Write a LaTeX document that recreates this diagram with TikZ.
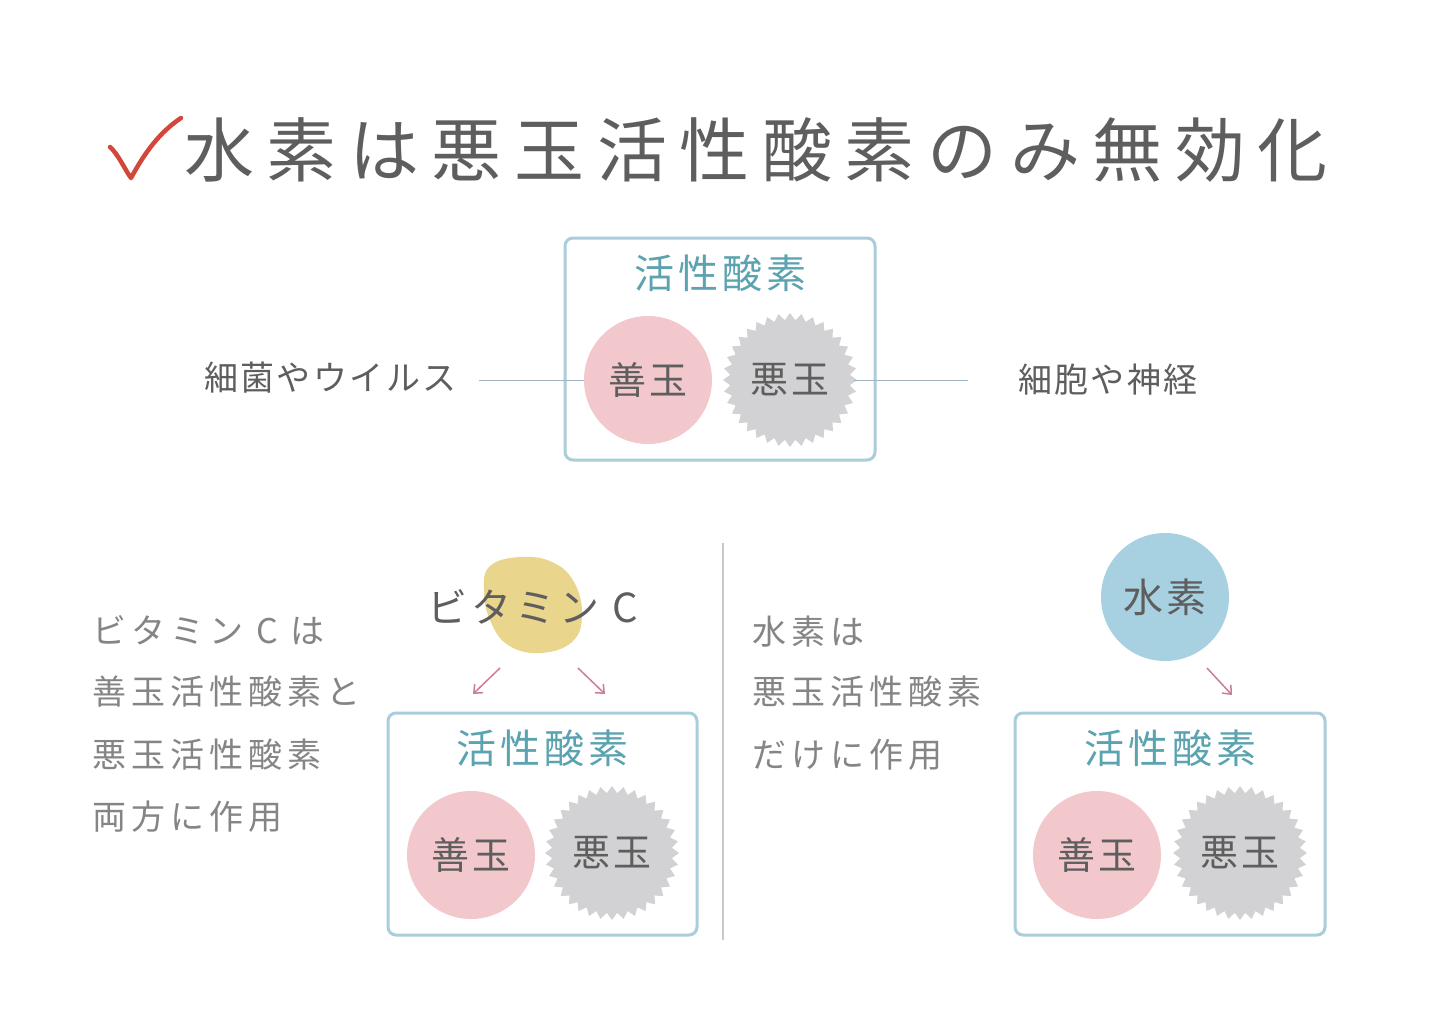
\documentclass[tikz,border=0pt]{standalone}
\usepackage{fontspec}
\setmainfont{Noto Sans CJK JP}
\usetikzlibrary{arrows.meta}
\definecolor{boxline}{HTML}{A9CDDA}
\definecolor{tealtxt}{HTML}{5BA3B0}
\definecolor{pinkc}{HTML}{F3C8CC}
\definecolor{grayc}{HTML}{D2D2D4}
\definecolor{darktxt}{HTML}{5E5E5E}
\definecolor{lighttxt}{HTML}{858585}
\definecolor{lemonc}{HTML}{E9D58C}
\definecolor{bluec}{HTML}{A7D0E1}
\definecolor{arrowc}{HTML}{C97C9C}
\definecolor{checkred}{HTML}{D2473A}
\definecolor{linec}{HTML}{9FB3C2}
\definecolor{sepc}{HTML}{C8C8C8}
\tikzset{
  oxbox/.style={draw=boxline, line width=3pt, rounded corners=8pt, fill=white},
  boxtitle/.style={text=tealtxt, font=\fontsize{40}{40}\selectfont\addfontfeatures{LetterSpace=10}},
  goodball/.style={circle, fill=pinkc, minimum size=128pt, inner sep=0pt, text=darktxt, font=\fontsize{38}{38}\selectfont\addfontfeatures{LetterSpace=8}},
  badball/.style={circle, minimum size=128pt, inner sep=0pt, text=darktxt, font=\fontsize{38}{38}\selectfont\addfontfeatures{LetterSpace=8}},
  sidelabel/.style={text=darktxt, font=\fontsize{34}{34}\selectfont\addfontfeatures{LetterSpace=7}, anchor=west, inner sep=0pt},
  bodytxt/.style={text=lighttxt, font=\fontsize{34}{34}\selectfont\addfontfeatures{LetterSpace=15}, anchor=west, inner sep=0pt},
  pinkarrow/.style={draw=arrowc, line width=1.5pt, -{Straight Barb[length=7pt,width=12pt]}},
  pics/burst/.style={code={
    \fill[grayc] (0:67) \foreach \i [evaluate=\i as \r using {mod(\i,2)==0?67:60}] in {1,...,71}{ -- ({\i*5}:\r) } -- cycle;
  }}
}
\begin{document}
\begin{tikzpicture}[x=1pt,y=-1pt]
\useasboundingbox (0,0) rectangle (1440,1018);
\fill[white] (0,0) rectangle (1440,1018);

% title
\draw[checkred, line width=4.5pt, line cap=round, line join=round]
  (110,147) .. controls (118,154) and (124,168) .. (131,178)
  .. controls (145,152) and (160,132) .. (181,118);
\node[text=darktxt, font=\fontsize{70}{70}\selectfont\addfontfeatures{LetterSpace=18}, anchor=west, inner sep=0pt] (title) at (184,150) {水素は悪玉活性酸素のみ無効化};

% top box
\draw[oxbox] (565,238) rectangle (875,460);
\node[boxtitle] (t1) at (720,273) {活性酸素};
\node[goodball] (good1) at (648,380) {善玉};
\pic at (790,380) {burst};
\node[badball] (bad1) at (790,380) {悪玉};
\node[sidelabel] (bac) at (204,378) {細菌やウイルス};
\node[sidelabel] (cell) at (1018,380) {細胞や神経};
\draw[linec, line width=1pt] ([xshift=22pt]bac.east |- good1.west) -- (good1.west);
\draw[linec, line width=1pt] (bad1.east) -- ([xshift=-50pt]cell.west);

% separator
\draw[sepc, line width=2pt] (723,543) -- (723,940);

% left side
\node[bodytxt] (l1) at (92,630) {ビタミン C は};
\node[bodytxt] (l2) at (92,692) {善玉活性酸素と};
\node[bodytxt] (l3) at (92,755) {悪玉活性酸素};
\node[bodytxt] (l4) at (92,817) {両方に作用};

\fill[lemonc] plot[smooth cycle, tension=0.7] coordinates {(490,566) (520,557) (552,562) (574,582) (582,615) (572,642) (540,653) (508,645) (490,620) (484,590)};
\node[text=darktxt, font=\fontsize{40}{40}\selectfont\addfontfeatures{LetterSpace=10}, anchor=west, inner sep=0pt] (vitc) at (427,607) {ビタミン C};
\coordinate (a1s) at (500,668);
\coordinate (a1e) at (473,694);
\coordinate (a2s) at (578,668);
\coordinate (a2e) at (605,694);
\draw[pinkarrow] (a1s) -- (a1e);
\draw[pinkarrow] (a2s) -- (a2e);

\draw[oxbox] (388,713) rectangle (697,935);
\node[boxtitle] (t2) at (542,748) {活性酸素};
\node[goodball] (good2) at (471,855) {善玉};
\pic at (612,853) {burst};
\node[badball] (bad2) at (612,853) {悪玉};

% right side
\node[bodytxt] (r1) at (752,632) {水素は};
\node[bodytxt] (r2) at (752,692) {悪玉活性酸素};
\node[bodytxt] (r3) at (752,755) {だけに作用};

\node[circle, fill=bluec, minimum size=128pt, inner sep=0pt, text=darktxt, font=\fontsize{40}{40}\selectfont\addfontfeatures{LetterSpace=8}] (h2) at (1165,597) {水素};
\coordinate (a3s) at (1207,668);
\coordinate (a3e) at (1232,695);
\draw[pinkarrow] (a3s) -- (a3e);

\draw[oxbox] (1015,713) rectangle (1325,935);
\node[boxtitle] (t3) at (1170,748) {活性酸素};
\node[goodball] (good3) at (1097,855) {善玉};
\pic at (1240,853) {burst};
\node[badball] (bad3) at (1240,853) {悪玉};
\end{tikzpicture}
\end{document}
